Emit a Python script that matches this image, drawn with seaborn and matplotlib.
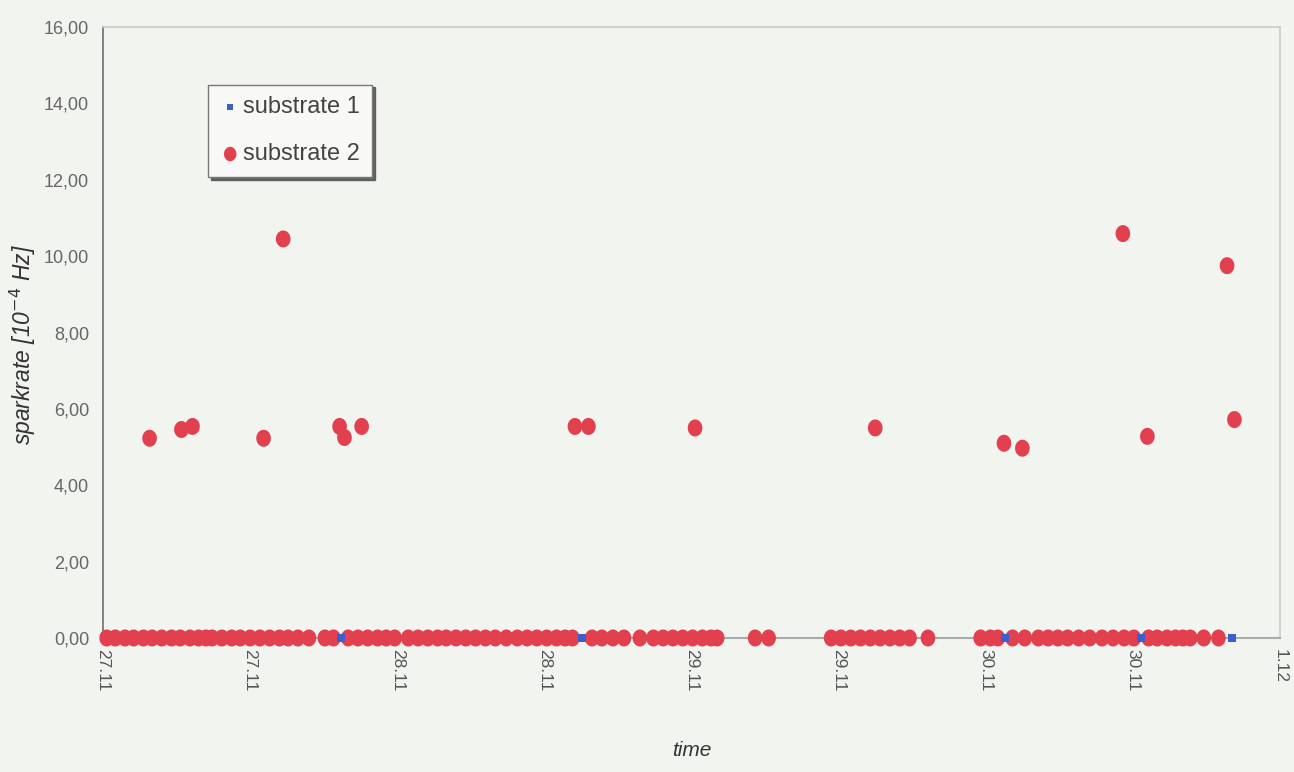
import matplotlib
matplotlib.use("Agg")
import matplotlib.pyplot as plt
import seaborn as sns
import pandas as pd
import numpy as np

# ---- data (hours since 27.11 00:00) ----
# substrate 2: elevated readings
s2_peak_hours = [3.8, 6.4, 7.3, 13.1, 14.7, 19.3, 19.7, 21.1, 38.5, 39.6,
                 48.3, 63.0, 73.5, 75.0, 83.2, 85.2, 91.7, 92.3]
s2_peak_rate = [5.23, 5.46, 5.54, 5.23, 10.45, 5.54, 5.25, 5.54, 5.54, 5.54,
                5.50, 5.50, 5.10, 4.97, 10.59, 5.28, 9.75, 5.72]

# substrate 2: zero readings
s2_zero_hours = [0.3, 1.0, 1.8, 2.5, 3.3, 4.0, 4.8, 5.6, 6.3, 7.1, 7.8, 8.4,
                 8.9, 9.7, 10.5, 11.2, 12.0, 12.8, 13.6, 14.4, 15.1, 15.9, 16.8,
                 18.1, 18.8,
                 20.0, 20.8, 21.6, 22.4, 23.1, 23.8,
                 24.9, 25.7, 26.5, 27.3, 28.0, 28.8, 29.6, 30.4, 31.2, 32.0, 32.9,
                 33.8, 34.6, 35.4, 36.2, 37.0, 37.7, 38.3,
                 39.9, 40.7,
                 41.6, 42.5, 43.8,
                 44.9, 45.7, 46.5, 47.3, 48.1, 48.9, 49.6, 50.1,
                 53.2, 54.3,
                 59.4, 60.2, 61.0, 61.8, 62.6, 63.4, 64.2, 65.0, 65.8, 67.3,
                 71.6, 72.4, 73.0,
                 74.2, 75.2, 76.3, 77.1, 77.9, 78.7, 79.6, 80.5, 81.5, 82.4, 83.3, 84.1,
                 85.3, 86.0, 86.8, 87.5, 88.1,
                 88.7, 89.8,
                 91.0]

# substrate 1: all zero
s1_hours = [19.4, 39.1, 73.6, 84.7, 92.1]
s1_rate = [0.0, 0.0, 0.0, 0.0, 0.0]

x_tick_hours = [0, 12, 24, 36, 48, 60, 72, 84, 96]
x_tick_labels = ["27.11", "27.11", "28.11", "28.11", "29.11", "29.11",
                 "30.11", "30.11", "1.12"]
y_ticks = [0, 2, 4, 6, 8, 10, 12, 14, 16]
y_tick_labels = ["0,00", "2,00", "4,00", "6,00", "8,00", "10,00", "12,00",
                 "14,00", "16,00"]

df1 = pd.DataFrame({"hours": s1_hours, "rate": s1_rate})
df2 = pd.DataFrame({"hours": s2_zero_hours + s2_peak_hours,
                    "rate": [0.0] * len(s2_zero_hours) + s2_peak_rate})

# ---- style ----
sns.set_style("white")
plt.rcParams["font.family"] = ["Liberation Sans", "DejaVu Sans"]

bg = "#f2f4ef"
red = "#e2404f"
blue = "#3a5fd0"

# slightly tall oval marker (as in the scanned original)
_t = np.linspace(0, 2 * np.pi, 40)
oval = list(zip(0.86 * np.cos(_t), np.sin(_t)))

fig = plt.figure(figsize=(12.94, 7.72), dpi=100, facecolor=bg)
ax = fig.add_axes([0.0796, 0.1736, 0.9094, 0.7914])
ax.set_facecolor(bg)

sns.scatterplot(data=df1, x="hours", y="rate", ax=ax, marker="s", s=30,
                color=blue, edgecolor="none", label="substrate 1",
                clip_on=False, zorder=5)
sns.scatterplot(data=df2, x="hours", y="rate", ax=ax, marker=oval, s=150,
                color=red, edgecolor="none", label="substrate 2",
                clip_on=False, zorder=4)

ax.set_xlim(0, 96)
ax.set_ylim(0, 16)
ax.set_xticks(x_tick_hours)
ax.set_xticklabels(x_tick_labels, rotation=-90, fontsize=12.5, color="#555555")
ax.set_yticks(y_ticks)
ax.set_yticklabels(y_tick_labels, fontsize=13, color="#666666")
ax.tick_params(axis="y", length=4, color="#999999", pad=6)
ax.tick_params(axis="x", length=0, pad=8)

for side, col, lw in [("left", "#777777", 1.3), ("top", "#cccccc", 1.2),
                      ("right", "#cccccc", 1.2), ("bottom", "#aaaaaa", 1.5)]:
    ax.spines[side].set_visible(True)
    ax.spines[side].set_color(col)
    ax.spines[side].set_linewidth(lw)

ax.set_xlabel("time", fontsize=15, style="italic", color="#333333")
ax.xaxis.set_label_coords(0.5, -0.168)
ax.set_ylabel("sparkrate [10$^{-4}$ Hz]", fontsize=16.5, style="italic",
              color="#333333")
ax.yaxis.set_label_coords(-0.055, 0.48)

leg = ax.legend(loc="upper left", bbox_to_anchor=(0.079, 0.925), fontsize=17,
                frameon=True, shadow={"color": "#555555", "alpha": 0.9},
                fancybox=False, borderpad=0.5,
                handletextpad=0.1, handlelength=0.9, labelspacing=1.05,
                markerscale=0.85)
leg.get_frame().set_edgecolor("#777777")
leg.get_frame().set_facecolor("#f8f9f6")
for t in leg.get_texts():
    t.set_color("#444444")

fig.savefig("out.png", dpi=100, facecolor=bg)
